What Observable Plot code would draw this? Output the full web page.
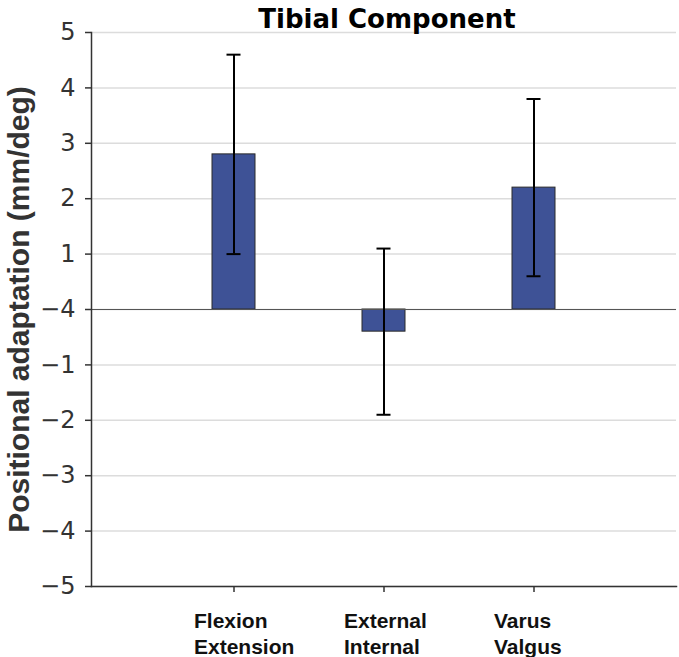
<!DOCTYPE html>
<html>
<head>
<meta charset="utf-8">
<script src="https://cdn.jsdelivr.net/npm/d3@7"></script>
<script src="https://cdn.jsdelivr.net/npm/@observablehq/plot@0.6"></script>
<style>
  html, body { margin: 0; padding: 0; background: #fff; }
</style>
</head>
<body>
<div id="chart"></div>
<script>
const title = "Tibial Component";
const yLabel = "Positional adaptation (mm/deg)";
const categories = ["Flexion Extension", "External Internal", "Varus Valgus"];
const categoryLabels = ["Flexion\nExtension", "External\nInternal", "Varus\nValgus"];
const means = [2.8, -0.4, 2.2];
const lower = [1.0, -1.9, 0.6];
const upper = [4.6, 1.1, 3.8];
const yTicks = [5, 4, 3, 2, 1, 0, -1, -2, -3, -4, -5];
const yTickLabels = ["5", "4", "3", "2", "1", "\u22124", "\u22121", "\u22122", "\u22123", "\u22124", "\u22125"];

const data = categories.map((c, i) => ({cat: c, label: categoryLabels[i], mean: means[i], lo: lower[i], hi: upper[i]}));
const tickLabelOf = new Map(yTicks.map((t, i) => [t, yTickLabels[i]]));

const chart = Plot.plot({
  width: 679,
  height: 657,
  marginLeft: 91,
  marginRight: 3,
  marginTop: 32,
  marginBottom: 71,
  x: {domain: categories, paddingInner: 0.715, paddingOuter: 0.795},
  y: {domain: [-5, 5]},
  style: {background: "#fff"},
  marks: [
    Plot.ruleY(yTicks, {stroke: "#dcdcdc", strokeWidth: 1.5}),
    Plot.barY(data, {x: "cat", y: "mean", fill: "#3e5296", stroke: "#2b2b2b", strokeWidth: 1}),
    Plot.ruleY([0], {stroke: "#555", strokeWidth: 1.2}),
    Plot.ruleX(data, {x: "cat", y1: "lo", y2: "hi", stroke: "#000", strokeWidth: 2}),
    Plot.tickY(data, {x: "cat", y: "lo", stroke: "#000", strokeWidth: 2, insetLeft: 14.5, insetRight: 14.5}),
    Plot.tickY(data, {x: "cat", y: "hi", stroke: "#000", strokeWidth: 2, insetLeft: 14.5, insetRight: 14.5}),
    Plot.frame({anchor: "left", stroke: "#333", strokeWidth: 1.5}),
    Plot.frame({anchor: "bottom", stroke: "#333", strokeWidth: 1.5}),
    Plot.axisY({
      ticks: yTicks,
      tickFormat: d => tickLabelOf.get(d),
      tickSize: 6,
      tickPadding: 10,
      stroke: "#333",
      strokeWidth: 1.5,
      fill: "#333",
      fontSize: 24,
      fontFamily: "DejaVu Sans",
      label: null
    }),
    Plot.axisX({
      tickFormat: () => "",
      tickSize: 6,
      stroke: "#333",
      strokeWidth: 1.5,
      label: null
    }),
    Plot.text(data, {
      x: "cat",
      text: "label",
      frameAnchor: "bottom",
      lineAnchor: "top",
      textAnchor: "start",
      dx: -40,
      dy: 24,
      lineHeight: 1.2,
      fontSize: 21,
      fontWeight: "bold",
      fontFamily: "Liberation Sans, Arial, sans-serif",
      fill: "#111"
    }),
    Plot.text([title], {
      frameAnchor: "top",
      lineAnchor: "bottom",
      dx: 3,
      dy: -5,
      fontSize: 26,
      fontWeight: "bold",
      fontFamily: "DejaVu Sans",
      fill: "#000"
    }),
    Plot.text([yLabel], {
      frameAnchor: "left",
      textAnchor: "middle",
      rotate: -90,
      dx: -72.6,
      dy: 0,
      fontSize: 30,
      fontWeight: "bold",
      fontFamily: "Liberation Sans, Arial, sans-serif",
      fill: "#333"
    })
  ]
});
document.getElementById("chart").appendChild(chart);
</script>
</body>
</html>
